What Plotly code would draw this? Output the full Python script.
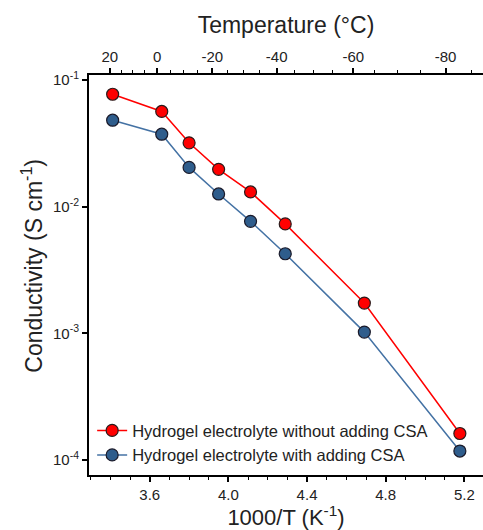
import plotly.graph_objects as go

temps_c = [20, 0, -10, -20, -30, -40, -60, -80]
inv_t = [1000 / (t + 273.15) for t in temps_c]
cond_without = [0.0771, 0.0564, 0.0319, 0.0197, 0.01306, 0.00731, 0.001734, 0.000162]
cond_with = [0.0481, 0.0373, 0.0204, 0.01259, 0.00766, 0.00425, 0.001023, 0.0001178]

top_tick_temps = [20, 0, -20, -40, -60, -80]
top_minor_temps = list(range(20, -91, -5))
x_ticks = [3.6, 4.0, 4.4, 4.8, 5.2]
y_ticks = [1e-4, 1e-3, 1e-2, 1e-1]
y_ticktext = ["10<sup>-4</sup>", "10<sup>-3</sup>", "10<sup>-2</sup>", "10<sup>-1</sup>"]

FONT = "Liberation Sans, Arial, sans-serif"

fig = go.Figure()
fig.add_trace(go.Scatter(
    x=inv_t, y=cond_without, mode="lines+markers",
    name="Hydrogel electrolyte without adding CSA",
    line=dict(color="#FF0000", width=1.5),
    marker=dict(size=12, color="#FF0000", line=dict(color="#2a1a1a", width=1.2)),
))
fig.add_trace(go.Scatter(
    x=inv_t, y=cond_with, mode="lines+markers",
    name="Hydrogel electrolyte with adding CSA",
    line=dict(color="#4472A4", width=1.5),
    marker=dict(size=12, color="#2F5D8C", line=dict(color="#1a1a2a", width=1.2)),
))
# invisible trace to anchor the top axis
fig.add_trace(go.Scatter(x=[3.5], y=[1e-3], xaxis="x2", mode="markers",
                         marker=dict(opacity=0), showlegend=False, hoverinfo="skip"))

fig.update_layout(
    width=483, height=530,
    margin=dict(l=89, r=0, t=75, b=55),
    paper_bgcolor="white", plot_bgcolor="white",
    font=dict(family=FONT, color="#222222", size=15),
    showlegend=True,
    legend=dict(x=0.008, y=0.007, xanchor="left", yanchor="bottom",
                bgcolor="rgba(0,0,0,0)", font=dict(size=16.5, family=FONT),
                tracegroupgap=0),
    xaxis=dict(
        range=[3.291, 5.295], tickvals=x_ticks, ticktext=[f"{v:.1f}" for v in x_ticks],
        ticks="outside", ticklen=5, tickwidth=1.5, tickcolor="black",
        minor=dict(dtick=0.1, tick0=3.2, ticks="outside", ticklen=3, tickwidth=1.2, tickcolor="black"),
        showline=True, linecolor="black", linewidth=2, mirror=False,
        showgrid=False, zeroline=False,
        tickfont=dict(size=15),
        title=dict(text="1000/T (K<sup>-1</sup>)", font=dict(size=22), standoff=8),
    ),
    xaxis2=dict(
        overlaying="x", side="top", anchor="y",
        range=[3.302, 5.374],
        tickvals=[1000 / (t + 273.15) for t in top_tick_temps],
        ticktext=[str(t) for t in top_tick_temps],
        ticks="outside", ticklen=5, tickwidth=1.5, tickcolor="black",
        minor=dict(tickvals=[1000 / (t + 273.15) for t in top_minor_temps],
                   ticks="outside", ticklen=3, tickwidth=1.2, tickcolor="black"),
        showline=True, linecolor="black", linewidth=2,
        showgrid=False, zeroline=False,
        tickfont=dict(size=15),
        title=dict(text="Temperature (°C)", font=dict(size=23), standoff=8),
    ),
    yaxis=dict(
        type="log", range=[-4.118, -0.961],
        tickvals=y_ticks, ticktext=y_ticktext,
        ticks="outside", ticklen=5, tickwidth=2, tickcolor="black",
        showline=True, linecolor="black", linewidth=2,
        showgrid=False, zeroline=False,
        tickfont=dict(size=15),
    ),
    annotations=[dict(
        text="Conductivity (S cm<sup>-1</sup>)", textangle=-90,
        xref="paper", yref="paper", x=-0.145, y=0.523,
        xanchor="center", yanchor="middle", showarrow=False,
        font=dict(size=23, family=FONT, color="#222222"),
    )],
)

fig.write_html("out.html")
